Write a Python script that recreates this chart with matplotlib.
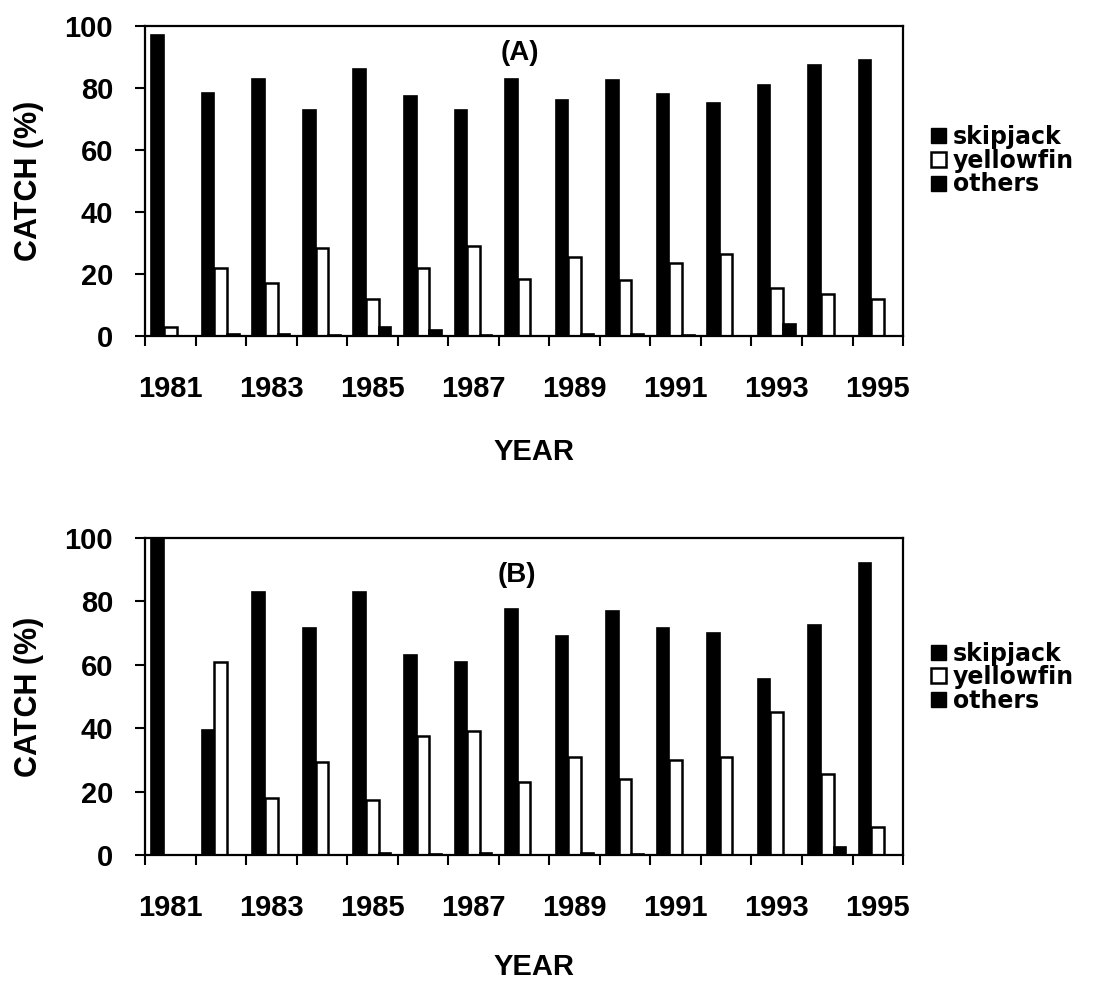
import numpy as np
import matplotlib
matplotlib.use('Agg')
import matplotlib.pyplot as plt
from matplotlib.patches import Patch

years = list(range(1981, 1996))
tick_years = [str(y) for y in years[::2]]
species = ['skipjack', 'yellowfin', 'others']

# panel A
skipjack_a = [97, 78.5, 83, 73, 86, 77.5, 73, 83, 76, 82.5, 78, 75, 81, 87.5, 89]
yellowfin_a = [3, 22, 17, 28.5, 12, 22, 29, 18.5, 25.5, 18, 23.5, 26.5, 15.5, 13.5, 12]
others_a = [0, 0.5, 0.5, 0.3, 3, 2, 0.3, 0, 0.5, 0.5, 0.3, 0, 4, 0, 0]

# panel B
skipjack_b = [100, 39.5, 83, 71.5, 83, 63, 61, 77.5, 69, 77, 71.5, 70, 55.5, 72.5, 92]
yellowfin_b = [0, 61, 18, 29.5, 17.5, 37.5, 39, 23, 31, 24, 30, 31, 45, 25.5, 9]
others_b = [0, 0, 0, 0, 0.5, 0.3, 0.5, 0, 0.5, 0.3, 0, 0, 0, 2.5, 0]

plt.rcParams['font.family'] = ['Liberation Sans', 'DejaVu Sans']
plt.rcParams['font.weight'] = 'bold'

fig = plt.figure(figsize=(10.95, 9.81), dpi=100)
ax_a = fig.add_axes([0.1324, 0.6575, 0.6923, 0.316])
ax_b = fig.add_axes([0.1324, 0.1284, 0.6923, 0.3232])

panels = [
    (ax_a, skipjack_a, yellowfin_a, others_a, '(A)', (0.495, 0.913), -0.329, 0.565),
    (ax_b, skipjack_b, yellowfin_b, others_b, '(B)', (0.49, 0.883), -0.309, 0.561),
]

x = np.arange(len(years))
w = 0.25

for ax, sk, yf, ot, tag, tagpos, xlab_y, leg_y in panels:
    ax.bar(x - w, sk, w, color='black', edgecolor='black', linewidth=1.2)
    ax.bar(x, yf, w, color='white', edgecolor='black', linewidth=1.8)
    ax.bar(x + w, ot, w, color='black', edgecolor='black', linewidth=1.2)

    ax.set_xlim(-0.5, len(years) - 0.5)
    ax.set_ylim(0, 100)
    ax.set_yticks(range(0, 101, 20))
    ax.set_xticks(x[::2])
    ax.set_xticklabels(tick_years)
    ax.set_xticks(np.arange(-0.5, len(years)), minor=True)
    ax.tick_params(axis='x', which='major', length=0, pad=28, labelsize=21)
    ax.tick_params(axis='x', which='minor', length=7, width=1.5, direction='out')
    ax.tick_params(axis='y', length=7, width=1.5, direction='out', pad=16, labelsize=21)
    for s in ax.spines.values():
        s.set_linewidth(1.6)

    ax.set_ylabel('CATCH (%)', fontsize=22, fontweight='bold')
    ax.yaxis.set_label_coords(-0.133, 0.5)
    ax.set_xlabel('YEAR', fontsize=21, fontweight='bold')
    ax.xaxis.set_label_coords(0.513, xlab_y)

    ax.text(tagpos[0], tagpos[1], tag, transform=ax.transAxes, ha='center', va='center',
            fontsize=20, fontweight='bold')

    handles = [Patch(facecolor='black', edgecolor='black'),
               Patch(facecolor='white', edgecolor='black', linewidth=1.8),
               Patch(facecolor='black', edgecolor='black')]
    ax.legend(handles, species, loc='center left', bbox_to_anchor=(1.025, leg_y),
              frameon=False, handlelength=0.6, handleheight=0.6,
              handletextpad=0.3, labelspacing=-0.02, borderaxespad=0,
              prop={'family': 'DejaVu Sans', 'weight': 'bold', 'size': 17})

fig.savefig('out.png', dpi=100)
